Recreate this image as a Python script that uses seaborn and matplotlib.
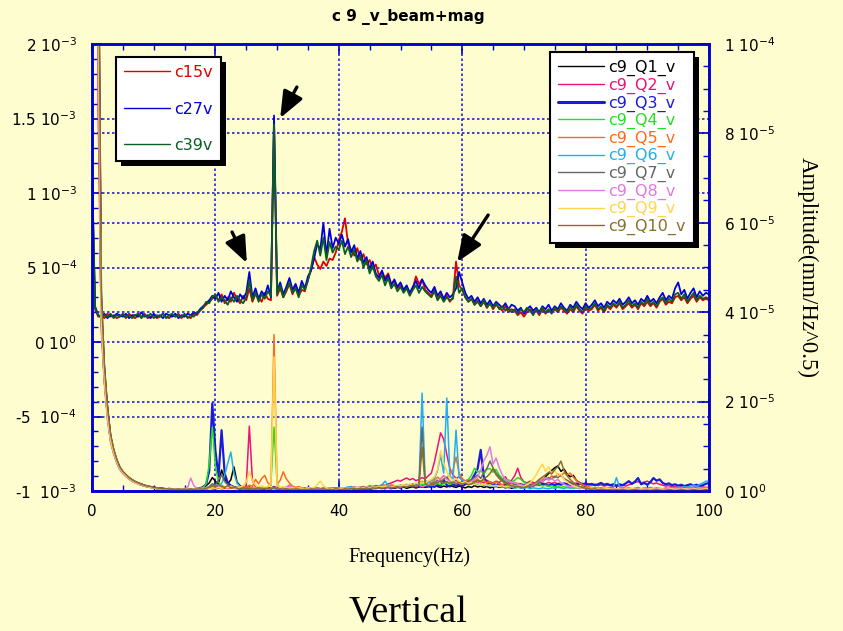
import numpy as np
import pandas as pd
import matplotlib
matplotlib.use("Agg")
import matplotlib.pyplot as plt
from matplotlib.ticker import MultipleLocator, FixedLocator, FixedFormatter
from matplotlib.patches import Rectangle
from matplotlib.lines import Line2D
import seaborn as sns

# ---------------------------------------------------------------- data
# common frequency grid (Hz)
freq = np.arange(0, 100.01, 0.5)

# beam + magnet spectra, left axis, units of 1e-5
c15v = [110, 22, 17, 18, 16, 19, 17, 18, 16, 17,
        18, 16, 19, 17, 16, 18, 17, 19, 16, 17,
        18, 16, 17, 19, 17, 16, 18, 17, 19, 16,
        18, 17, 16, 19, 18, 21, 23, 25, 27, 29,
        31, 28, 32, 26, 30, 27, 33, 29, 26, 31,
        28, 36, 27, 32, 30, 27, 33, 29, 28, 148,
        31, 36, 30, 34, 39, 32, 37, 31, 35, 34,
        42, 48, 57, 52, 49, 54, 51, 56, 55, 60,
        68, 74, 83, 66, 62, 58, 63, 55, 59, 52,
        55, 49, 52, 45, 47, 43, 46, 39, 41, 36,
        38, 34, 37, 32, 36, 44, 39, 42, 35, 33,
        31, 35, 29, 32, 28, 31, 27, 30, 54, 38,
        35, 30, 27, 29, 25, 28, 24, 27, 23, 26,
        22, 25, 23, 21, 24, 20, 22, 21, 18, 20,
        17, 20, 22, 19, 21, 18, 22, 19, 21, 20,
        22, 20, 23, 21, 19, 22, 20, 24, 21, 19,
        23, 21, 22, 25, 21, 23, 20, 24, 22, 25,
        23, 26, 22, 24, 26, 23, 25, 22, 26, 24,
        27, 24, 26, 23, 27, 29, 25, 27, 26, 30,
        31, 28, 30, 26, 29, 31, 27, 30, 28, 29,
        28]
c27v = [117, 24, 18, 17, 19, 16, 18, 17, 19, 18,
        17, 19, 16, 18, 18, 17, 20, 17, 18, 16,
        19, 17, 18, 16, 19, 18, 17, 19, 16, 18,
        17, 19, 18, 20, 19, 22, 24, 26, 28, 31,
        29, 33, 27, 31, 28, 34, 30, 27, 32, 29,
        33, 47, 30, 36, 29, 34, 31, 38, 30, 152,
        34, 40, 32, 37, 43, 35, 39, 33, 41, 36,
        44, 48, 56, 66, 62, 80, 58, 76, 63, 70,
        66, 72, 64, 69, 60, 65, 56, 61, 53, 57,
        49, 54, 46, 43, 48, 41, 45, 38, 42, 37,
        40, 35, 38, 33, 37, 41, 36, 42, 38, 35,
        33, 37, 31, 34, 29, 33, 30, 32, 36, 47,
        40, 33, 29, 31, 27, 30, 26, 29, 25, 28,
        24, 27, 25, 23, 26, 22, 25, 24, 21, 23,
        19, 22, 24, 21, 23, 20, 24, 22, 25, 21,
        24, 22, 26, 23, 21, 25, 23, 27, 24, 22,
        26, 23, 25, 28, 24, 26, 23, 27, 25, 28,
        26, 29, 25, 27, 30, 26, 28, 25, 29, 27,
        31, 27, 29, 26, 30, 33, 28, 31, 29, 36,
        40, 32, 35, 29, 33, 36, 30, 34, 31, 33,
        32]
c39v = [113, 23, 18, 16, 18, 17, 19, 16, 18, 17,
        19, 17, 18, 16, 18, 19, 16, 18, 17, 19,
        16, 18, 17, 19, 16, 18, 19, 17, 18, 17,
        19, 16, 18, 17, 20, 21, 23, 27, 26, 30,
        32, 27, 30, 28, 25, 30, 27, 31, 28, 26,
        30, 41, 28, 33, 27, 32, 29, 34, 31, 146,
        32, 38, 30, 35, 40, 33, 36, 30, 38, 35,
        41, 50, 61, 68, 58, 70, 55, 67, 60, 64,
        62, 68, 59, 64, 57, 62, 54, 58, 50, 55,
        46, 51, 44, 41, 45, 38, 43, 36, 39, 34,
        37, 33, 36, 31, 35, 38, 33, 37, 34, 32,
        30, 34, 28, 31, 27, 30, 28, 29, 44, 33,
        36, 30, 27, 29, 25, 27, 24, 28, 23, 26,
        23, 26, 22, 24, 21, 23, 20, 22, 19, 22,
        20, 23, 21, 18, 22, 19, 23, 20, 22, 19,
        23, 21, 24, 22, 20, 24, 21, 25, 22, 20,
        24, 22, 23, 26, 22, 24, 21, 25, 23, 26,
        24, 27, 23, 25, 28, 24, 26, 23, 27, 25,
        29, 25, 27, 24, 28, 30, 26, 29, 27, 32,
        33, 29, 32, 27, 30, 33, 28, 31, 29, 30,
        29]

# quadrupole spectra, right axis, units of 1e-6
c9_Q1_v = [950, 430, 130, 44, 28, 19, 12.5, 9.2, 7.0, 5.3,
           4.3, 3.6, 3.0, 2.5, 2.1, 1.8, 1.5, 1.3, 1.1, 0.9,
           0.8, 0.7, 0.6, 0.5, 0.5, 0.4, 0.4, 0.3, 0.4, 0.3,
           0.3, 0.4, 0.3, 0.5, 0.4, 0.6, 0.8, 1.2, 1.8, 3.0,
           2.2, 1.5, 4.7, 2.8, 1.6, 2.5, 5.4, 2.0, 1.2, 0.8,
           0.6, 0.9, 0.5, 0.7, 0.4, 0.6, 0.5, 0.8, 0.4, 1.0,
           0.5, 0.4, 0.6, 0.3, 0.5, 0.4, 0.3, 0.5, 0.4, 0.6,
           0.4, 0.5, 0.3, 0.6, 0.4, 0.5, 0.3, 0.4, 0.6, 0.4,
           0.5, 0.3, 0.4, 0.6, 0.5, 0.4, 0.7, 0.5, 0.6, 0.4,
           0.6, 0.5, 0.8, 0.6, 0.7, 0.5, 0.9, 0.7, 0.6, 0.8,
           0.7, 0.9, 0.6, 0.8, 1.0, 0.7, 0.9, 1.1, 0.8, 1.0,
           0.9, 1.2, 1.0, 0.8, 1.1, 0.9, 1.2, 1.0, 0.8, 1.1,
           0.9, 0.7, 1.0, 0.8, 1.2, 0.9, 1.1, 0.8, 1.0, 0.7,
           0.9, 1.1, 0.8, 1.0, 0.7, 0.9, 0.6, 0.8, 1.0, 0.7,
           0.8, 1.0, 0.9, 1.3, 1.8, 2.4, 2.1, 3.2, 3.9, 4.6,
           5.2, 5.6, 4.4, 4.9, 3.8, 3.2, 3.5, 2.4, 1.9, 1.3,
           1.0, 0.8, 0.6, 0.7, 0.5, 0.6, 0.4, 0.5, 0.3, 0.4,
           0.3, 0.4, 0.3, 0.2, 0.4, 0.3, 0.2, 0.3, 0.4, 0.3,
           0.2, 0.3, 0.4, 0.3, 0.2, 0.3, 0.2, 0.4, 0.3, 0.2,
           0.3, 0.2, 0.3, 0.4, 0.3, 0.2, 0.3, 0.2, 0.4, 0.3,
           0.3]
c9_Q2_v = [880, 400, 85, 38, 25, 17, 11.5, 8.6, 6.5, 5.0,
           4.0, 3.4, 2.8, 2.3, 1.9, 1.7, 1.4, 1.2, 1.0, 0.9,
           0.8, 0.7, 0.6, 0.6, 0.5, 0.5, 0.4, 0.5, 0.4, 0.3,
           0.4, 0.3, 0.5, 0.4, 0.3, 0.4, 0.5, 0.4, 0.6, 0.5,
           0.4, 0.7, 0.5, 0.6, 0.8, 0.6, 0.9, 0.7, 0.5, 0.8,
           1.2, 14.5, 2.4, 0.9, 0.6, 0.8, 0.5, 0.7, 0.6, 0.9,
           0.7, 0.5, 0.8, 0.6, 1.3, 0.7, 0.5, 0.6, 0.4, 0.7,
           0.5, 0.6, 0.4, 0.7, 0.5, 0.4, 0.6, 0.5, 0.7, 0.6,
           0.5, 0.7, 0.6, 0.8, 0.6, 0.9, 0.7, 0.8, 1.0, 0.9,
           1.1, 0.9, 1.2, 1.0, 1.4, 1.2, 1.6, 1.8, 2.1, 2.4,
           2.2, 2.6, 2.9, 2.5, 2.8, 2.3, 2.6, 3.0, 2.7, 3.4,
           4.0, 6.5, 9.8, 13.0, 11.6, 8.2, 5.0, 3.6, 2.8, 3.2,
           2.6, 2.2, 2.5, 2.0, 2.3, 1.9, 2.2, 1.8, 2.4, 2.0,
           1.8, 2.2, 1.9, 2.5, 3.2, 1.9, 2.4, 3.4, 5.1, 3.0,
           2.1, 1.8, 2.2, 1.9, 1.7, 2.0, 1.8, 1.6, 1.9, 1.7,
           1.9, 1.6, 1.8, 1.5, 1.7, 1.9, 1.6, 1.8, 1.5, 1.7,
           1.4, 1.6, 1.3, 1.5, 1.2, 1.4, 1.1, 1.3, 1.2, 1.0,
           1.2, 1.0, 1.3, 1.1, 1.4, 1.6, 1.9, 2.1, 1.8, 2.0,
           2.2, 1.9, 1.6, 1.8, 1.5, 1.3, 1.1, 1.2, 0.9, 1.0,
           0.8, 1.0, 0.7, 0.9, 0.8, 0.6, 0.8, 0.7, 0.9, 0.8,
           0.9]
c9_Q3_v = [920, 410, 120, 40, 26, 18, 12, 9, 6.8, 5.2,
           4.2, 3.5, 2.9, 2.4, 2.0, 1.7, 1.5, 1.2, 1.0, 0.9,
           0.8, 0.6, 0.6, 0.5, 0.4, 0.5, 0.4, 0.3, 0.4, 0.3,
           0.3, 0.4, 0.3, 0.4, 0.5, 0.6, 0.9, 1.5, 4.5, 19.6,
           9.0, 3.2, 13.6, 4.0, 1.8, 1.2, 0.9, 0.7, 0.5, 0.6,
           0.4, 0.6, 0.5, 0.4, 0.6, 0.3, 0.5, 0.4, 0.6, 0.8,
           0.5, 0.4, 0.6, 0.3, 0.5, 0.6, 0.4, 0.5, 0.3, 0.4,
           0.5, 0.3, 0.4, 0.5, 0.3, 0.6, 0.4, 0.3, 0.5, 0.4,
           0.6, 0.4, 0.5, 0.3, 0.6, 0.5, 0.4, 0.6, 0.5, 0.7,
           0.5, 0.7, 0.6, 0.8, 0.6, 0.9, 0.7, 0.6, 0.8, 1.0,
           0.8, 1.1, 0.9, 1.2, 1.0, 0.8, 1.1, 0.9, 1.3, 1.0,
           1.2, 0.9, 1.4, 1.1, 2.5, 1.3, 1.0, 1.5, 1.2, 1.4,
           1.1, 1.5, 1.8, 2.4, 3.6, 5.0, 9.2, 3.1, 1.9, 1.4,
           1.7, 1.3, 1.6, 1.2, 1.5, 1.4, 1.7, 1.3, 1.6, 1.5,
           1.3, 1.6, 1.4, 1.2, 1.5, 1.3, 1.6, 1.4, 1.2, 1.5,
           1.3, 1.6, 1.4, 1.7, 1.5, 1.3, 1.6, 1.4, 1.8, 1.5,
           1.7, 1.4, 1.6, 1.3, 1.5, 1.8, 1.4, 1.6, 1.3, 1.5,
           1.2, 1.5, 1.3, 1.7, 2.2, 1.6, 2.1, 2.9, 1.5, 1.8,
           1.4, 2.0, 2.9, 2.3, 2.6, 1.8, 1.5, 1.7, 1.3, 1.5,
           1.2, 1.4, 1.1, 1.3, 1.5, 1.2, 1.4, 1.1, 1.3, 1.6,
           1.8]
c9_Q4_v = [870, 390, 110, 39, 25, 17, 11.5, 8.7, 6.6, 5.0,
           4.1, 3.4, 2.8, 2.3, 1.9, 1.6, 1.4, 1.2, 1.0, 0.8,
           0.7, 0.6, 0.5, 0.5, 0.4, 0.4, 0.3, 0.4, 0.3, 0.4,
           0.3, 0.4, 0.3, 0.5, 0.4, 0.6, 0.8, 1.6, 6.0, 14.3,
           5.5, 2.0, 1.2, 0.9, 0.7, 0.8, 0.6, 0.5, 0.7, 0.4,
           0.6, 0.5, 0.4, 0.6, 0.5, 0.7, 0.6, 0.9, 1.8, 14.3,
           1.6, 0.6, 0.5, 0.4, 0.6, 0.3, 0.5, 0.4, 0.6, 0.5,
           0.3, 0.5, 0.4, 0.6, 0.4, 0.5, 0.3, 0.4, 0.5, 0.3,
           0.5, 0.4, 0.6, 0.5, 0.4, 0.6, 0.5, 0.7, 0.6, 0.8,
           0.6, 0.8, 0.7, 0.9, 0.8, 1.0, 0.9, 1.1, 0.9, 1.2,
           1.0, 1.3, 1.1, 1.4, 1.2, 1.5, 1.3, 1.6, 1.4, 1.2,
           1.5, 1.3, 1.7, 1.4, 1.6, 1.9, 1.5, 1.8, 1.6, 2.0,
           1.7, 2.2, 2.6, 3.5, 5.1, 4.2, 4.6, 3.8, 4.9, 5.0,
           4.2, 4.8, 3.6, 2.8, 2.2, 2.5, 2.0, 2.4, 3.0, 2.6,
           2.0, 1.6, 1.8, 1.4, 1.2, 1.5, 1.1, 1.3, 1.0, 1.2,
           0.9, 1.1, 0.8, 1.0, 0.7, 0.9, 0.6, 0.8, 0.5, 0.7,
           0.6, 0.5, 0.7, 0.4, 0.6, 0.5, 0.4, 0.6, 0.3, 0.5,
           0.4, 0.3, 0.5, 0.4, 0.3, 0.5, 0.4, 0.3, 0.4, 0.5,
           0.3, 0.4, 0.3, 0.5, 0.4, 0.3, 0.4, 0.3, 0.5, 0.4,
           0.3, 0.4, 0.5, 0.3, 0.4, 0.3, 0.5, 0.4, 0.3, 0.4,
           0.5]
c9_Q5_v = [900, 410, 115, 41, 26, 17.5, 12, 9, 6.7, 5.1,
           4.2, 3.5, 2.9, 2.4, 2.0, 1.7, 1.4, 1.2, 1.0, 0.9,
           0.7, 0.6, 0.5, 0.5, 0.4, 0.5, 0.4, 0.3, 0.4, 0.3,
           0.4, 0.3, 0.4, 0.5, 0.3, 0.4, 0.6, 0.5, 0.7, 1.2,
           0.9, 0.7, 0.6, 0.8, 0.5, 0.7, 0.6, 0.9, 0.7, 1.0,
           0.8, 1.3, 1.0, 2.6, 1.6, 2.8, 3.5, 1.8, 1.2, 35.0,
           1.5, 2.4, 4.3, 2.7, 1.8, 1.1, 0.8, 1.0, 0.7, 0.6,
           0.8, 0.5, 0.7, 0.6, 0.5, 0.7, 0.4, 0.6, 0.5, 0.4,
           0.6, 0.5, 0.7, 0.6, 0.8, 0.6, 0.7, 0.9, 0.7, 1.0,
           0.8, 1.1, 0.9, 1.2, 1.0, 1.3, 1.1, 1.4, 1.2, 1.0,
           1.3, 1.1, 1.5, 1.2, 1.6, 1.4, 1.8, 2.2, 1.7, 2.0,
           1.8, 2.4, 3.1, 2.6, 3.4, 2.8, 3.9, 4.6, 7.6, 4.0,
           2.8, 2.2, 2.5, 1.9, 2.3, 2.7, 2.0, 2.4, 1.8, 2.1,
           1.7, 2.0, 1.6, 1.4, 1.8, 1.5, 1.2, 1.4, 1.1, 1.3,
           1.0, 1.2, 1.0, 1.3, 1.6, 2.0, 2.6, 3.0, 2.5, 3.4,
           3.0, 3.8, 3.3, 4.1, 3.6, 4.0, 3.1, 2.4, 1.8, 1.4,
           1.1, 0.9, 0.8, 0.6, 0.7, 0.5, 0.6, 0.4, 0.5, 0.4,
           0.3, 0.5, 0.4, 0.3, 0.4, 0.3, 0.5, 0.4, 0.3, 0.4,
           0.3, 0.4, 0.3, 0.2, 0.4, 0.3, 0.2, 0.3, 0.4, 0.3,
           0.2, 0.3, 0.4, 0.3, 0.2, 0.3, 0.4, 0.3, 0.2, 0.3,
           0.3]
c9_Q6_v = [890, 400, 105, 40, 26, 17.5, 11.8, 8.8, 6.6, 5.1,
           4.1, 3.4, 2.8, 2.3, 1.9, 1.6, 1.4, 1.2, 1.0, 0.9,
           0.7, 0.6, 0.6, 0.5, 0.4, 0.4, 0.3, 0.4, 0.3, 0.4,
           0.3, 0.4, 0.3, 0.4, 0.5, 0.4, 0.6, 0.5, 0.8, 1.4,
           1.1, 0.9, 1.6, 3.5, 6.2, 8.7, 4.0, 1.8, 1.0, 0.7,
           0.5, 0.7, 0.6, 0.4, 0.6, 0.5, 0.7, 0.4, 0.6, 0.5,
           0.4, 0.6, 0.5, 0.3, 0.5, 0.4, 0.6, 0.5, 0.4, 0.6,
           0.5, 0.4, 0.6, 0.7, 0.5, 0.6, 0.4, 0.7, 0.5, 0.6,
           0.8, 0.6, 0.7, 0.9, 1.0, 0.7, 0.8, 0.6, 0.9, 0.7,
           0.8, 1.0, 0.9, 1.1, 1.4, 2.2, 1.3, 1.0, 1.2, 1.1,
           1.3, 1.1, 1.4, 1.2, 1.6, 1.4, 1.8, 21.9, 2.4, 1.9,
           2.3, 2.8, 4.5, 8.0, 4.0, 20.8, 3.4, 2.6, 13.6, 3.0,
           2.4, 2.0, 1.8, 1.6, 1.8, 1.4, 1.6, 1.2, 1.4, 1.1,
           1.2, 0.9, 1.1, 0.8, 1.0, 0.7, 0.9, 0.6, 0.8, 0.7,
           0.6, 0.8, 0.5, 0.7, 0.6, 0.5, 0.7, 0.6, 0.5, 0.7,
           0.6, 0.8, 0.7, 0.5, 0.9, 0.6, 0.8, 0.7, 0.6, 0.8,
           0.7, 0.5, 0.6, 0.8, 0.6, 0.7, 0.5, 0.6, 0.8, 0.7,
           3.0, 0.9, 0.8, 0.6, 0.7, 0.5, 0.6, 0.8, 0.5, 0.7,
           0.6, 0.8, 0.5, 0.7, 0.6, 0.5, 0.7, 0.6, 0.8, 0.7,
           0.9, 0.7, 1.0, 0.8, 1.1, 1.3, 1.0, 1.5, 1.8, 2.2,
           2.2]
c9_Q7_v = [860, 380, 100, 37, 24.5, 16.5, 11.2, 8.5, 6.4, 4.9,
           4.0, 3.3, 2.7, 2.2, 1.9, 1.6, 1.3, 1.1, 1.0, 0.8,
           0.7, 0.6, 0.5, 0.4, 0.5, 0.4, 0.3, 0.4, 0.3, 0.3,
           0.4, 0.3, 0.4, 0.3, 0.5, 0.4, 0.5, 0.7, 1.0, 1.6,
           1.3, 2.4, 3.6, 2.1, 1.4, 1.0, 0.8, 0.6, 0.7, 0.5,
           0.6, 0.4, 0.5, 0.7, 0.4, 0.6, 0.5, 0.4, 0.6, 0.7,
           0.5, 0.4, 0.6, 0.5, 0.3, 0.5, 0.4, 0.6, 0.5, 0.4,
           0.6, 0.4, 0.5, 0.3, 0.5, 0.4, 0.6, 0.5, 0.4, 0.6,
           0.5, 0.7, 0.6, 0.5, 0.8, 0.6, 0.7, 0.5, 0.8, 0.6,
           0.7, 0.9, 0.8, 0.6, 0.9, 0.7, 1.0, 0.8, 0.9, 1.1,
           0.9, 1.2, 1.0, 1.3, 1.1, 1.4, 1.6, 14.3, 2.0, 1.4,
           1.6, 1.9, 2.4, 2.0, 2.6, 3.1, 2.2, 1.8, 2.4, 1.9,
           1.6, 1.9, 2.2, 2.6, 3.0, 3.6, 2.8, 4.2, 5.0, 6.7,
           5.2, 4.0, 3.2, 2.4, 2.0, 1.6, 1.8, 1.4, 1.6, 1.2,
           1.0, 1.2, 0.9, 1.1, 1.4, 1.8, 2.2, 2.6, 3.0, 2.7,
           3.3, 3.0, 3.6, 2.8, 2.4, 2.0, 1.6, 1.3, 1.0, 0.8,
           0.7, 0.5, 0.6, 0.4, 0.5, 0.3, 0.4, 0.5, 0.3, 0.4,
           0.3, 0.4, 0.2, 0.3, 0.4, 0.3, 0.2, 0.4, 0.3, 0.2,
           0.3, 0.2, 0.4, 0.3, 0.2, 0.3, 0.4, 0.2, 0.3, 0.2,
           0.3, 0.4, 0.2, 0.3, 0.2, 0.4, 0.3, 0.2, 0.3, 0.4,
           0.3]
c9_Q8_v = [850, 370, 95, 36, 24, 16, 11, 8.3, 6.3, 4.8,
           3.9, 3.2, 2.7, 2.2, 1.8, 1.5, 1.3, 1.1, 0.9, 0.8,
           0.7, 0.6, 0.5, 0.4, 0.4, 0.3, 0.4, 0.3, 0.4, 0.3,
           0.5, 0.8, 2.9, 1.2, 0.6, 0.5, 0.7, 0.6, 0.9, 0.7,
           1.0, 0.8, 1.2, 0.9, 0.7, 1.1, 0.8, 0.6, 0.9, 0.7,
           0.5, 0.7, 0.6, 0.8, 0.5, 0.7, 0.6, 0.4, 0.6, 0.8,
           0.6, 0.5, 0.7, 0.9, 1.3, 0.8, 0.5, 0.6, 0.4, 0.5,
           0.4, 0.6, 0.5, 0.3, 0.5, 0.4, 0.6, 0.4, 0.3, 0.5,
           0.4, 0.6, 0.5, 0.7, 0.5, 0.6, 0.8, 0.6, 0.7, 0.5,
           0.7, 0.6, 0.8, 0.7, 0.9, 0.8, 0.6, 0.9, 0.8, 1.0,
           0.9, 1.1, 1.0, 1.2, 1.4, 1.1, 1.3, 1.0, 1.2, 1.5,
           1.3, 1.6, 2.0, 2.8, 3.5, 2.6, 2.2, 1.8, 2.1, 1.7,
           1.5, 1.9, 1.7, 2.2, 2.6, 3.2, 4.6, 6.8, 8.0, 9.9,
           6.0, 7.4, 5.2, 3.6, 2.6, 2.2, 1.8, 2.0, 1.6, 1.4,
           1.2, 1.5, 1.1, 1.4, 1.8, 2.6, 2.0, 3.0, 2.4, 2.8,
           2.2, 2.6, 1.8, 1.5, 1.2, 1.0, 0.9, 0.7, 0.8, 0.6,
           0.5, 0.7, 0.4, 0.6, 0.5, 0.4, 0.6, 0.5, 0.3, 0.5,
           0.4, 0.6, 0.5, 0.3, 0.5, 0.4, 0.6, 0.5, 0.4, 0.6,
           0.5, 0.4, 0.6, 0.5, 0.3, 0.5, 0.4, 0.6, 0.5, 0.4,
           0.5, 0.6, 0.4, 0.5, 0.7, 0.5, 0.6, 0.8, 0.6, 0.7,
           0.6]
c9_Q9_v = [880, 395, 112, 39, 25.5, 17, 11.6, 8.8, 6.6, 5.1,
           4.1, 3.4, 2.8, 2.3, 1.9, 1.6, 1.4, 1.2, 1.0, 0.8,
           0.7, 0.6, 0.5, 0.5, 0.4, 0.4, 0.3, 0.4, 0.3, 0.4,
           0.3, 0.4, 0.3, 0.4, 0.3, 0.5, 0.4, 0.6, 0.5, 0.7,
           0.6, 0.8, 0.6, 0.9, 0.7, 1.0, 0.8, 0.6, 0.9, 1.2,
           2.0, 4.3, 2.4, 1.3, 0.9, 1.2, 0.8, 1.0, 1.6, 30.0,
           1.2, 0.8, 1.0, 0.7, 0.6, 0.8, 0.5, 0.7, 0.6, 0.5,
           0.7, 0.6, 0.8, 1.4, 2.2, 1.2, 0.7, 0.5, 0.6, 0.4,
           0.5, 0.7, 0.6, 0.5, 0.7, 0.6, 0.8, 0.6, 0.7, 0.9,
           0.7, 0.9, 0.8, 1.0, 0.9, 1.1, 1.0, 0.8, 1.1, 1.3,
           1.1, 1.4, 1.2, 1.6, 1.3, 1.8, 1.5, 2.0, 1.7, 2.3,
           2.6, 3.2, 4.8, 9.0, 6.2, 4.4, 3.0, 2.4, 2.8, 2.2,
           1.8, 2.1, 1.6, 1.9, 1.4, 1.7, 1.3, 1.5, 1.2, 1.4,
           1.1, 1.3, 1.0, 1.2, 0.9, 1.1, 1.4, 1.0, 1.3, 1.1,
           1.0, 1.4, 1.8, 2.6, 3.6, 5.0, 6.0, 4.4, 5.4, 4.0,
           4.6, 3.4, 3.8, 2.6, 2.0, 1.5, 1.2, 0.9, 0.7, 0.8,
           0.6, 0.5, 0.7, 0.4, 0.6, 0.5, 0.4, 0.6, 0.5, 0.3,
           0.5, 0.4, 0.3, 0.5, 0.4, 0.6, 0.4, 0.3, 0.5, 0.4,
           0.3, 0.5, 0.4, 0.3, 0.5, 0.4, 0.3, 0.4, 0.5, 0.3,
           0.4, 0.3, 0.5, 0.4, 0.3, 0.5, 0.4, 0.3, 0.4, 0.5,
           0.4]
c9_Q10_v = [1000, 450, 140, 45, 28.5, 19, 12.8, 9.5, 7.1, 5.4,
            4.4, 3.7, 3.0, 2.5, 2.1, 1.8, 1.5, 1.3, 1.1, 1.0,
            0.8, 0.7, 0.6, 0.5, 0.5, 0.4, 0.4, 0.3, 0.4, 0.3,
            0.4, 0.3, 0.4, 0.3, 0.4, 0.5, 0.4, 0.6, 0.8, 1.1,
            0.9, 1.4, 1.0, 0.8, 1.2, 0.7, 0.9, 0.6, 0.5, 0.7,
            0.5, 0.6, 0.4, 0.5, 0.7, 0.4, 0.6, 0.5, 0.4, 0.8,
            0.4, 0.5, 0.3, 0.5, 0.4, 0.3, 0.5, 0.4, 0.3, 0.4,
            0.3, 0.5, 0.4, 0.3, 0.4, 0.5, 0.3, 0.4, 0.3, 0.5,
            0.4, 0.3, 0.5, 0.4, 0.6, 0.5, 0.4, 0.6, 0.5, 0.7,
            0.5, 0.7, 0.6, 0.8, 0.6, 0.7, 0.9, 0.7, 0.8, 1.0,
            0.8, 1.0, 0.9, 1.1, 1.3, 1.0, 1.4, 9.8, 1.6, 1.2,
            1.4, 1.6, 1.9, 2.3, 1.8, 2.1, 1.7, 2.0, 1.6, 1.9,
            1.5, 1.8, 1.4, 1.6, 2.0, 2.4, 2.1, 2.8, 3.2, 3.9,
            5.0, 3.6, 2.8, 2.2, 1.7, 1.4, 1.2, 1.0, 1.1, 0.9,
            0.8, 1.0, 1.2, 1.6, 2.0, 2.6, 3.1, 3.6, 4.2, 3.8,
            4.8, 5.4, 6.7, 4.6, 3.4, 2.6, 1.9, 1.4, 1.0, 0.8,
            0.6, 0.5, 0.4, 0.5, 0.3, 0.4, 0.3, 0.2, 0.3, 0.2,
            0.3, 0.2, 0.3, 0.2, 0.1, 0.2, 0.3, 0.2, 0.1, 0.2,
            0.2, 0.1, 0.2, 0.3, 0.2, 0.1, 0.2, 0.3, 0.2, 0.1,
            0.2, 0.3, 0.2, 0.1, 0.2, 0.3, 0.2, 0.1, 0.2, 0.3,
            0.2]

upper_names = ["c15v", "c27v", "c39v"]
upper_colors = ["#E00000", "#0000DD", "#0B5E22"]
upper_values = [c15v, c27v, c39v]

q_names = ["c9_Q1_v", "c9_Q2_v", "c9_Q3_v", "c9_Q4_v", "c9_Q5_v",
           "c9_Q6_v", "c9_Q7_v", "c9_Q8_v", "c9_Q9_v", "c9_Q10_v"]
q_colors = ["#000000", "#F0107A", "#1A1ADB", "#22E022", "#FF6A1A",
            "#22AEEE", "#666666", "#E27ADF", "#FFD54A", "#8A6E2A"]
q_widths = [1.1, 1.1, 1.6, 1.1, 1.1, 1.1, 1.1, 1.1, 1.1, 1.1]
q_values = [c9_Q1_v, c9_Q2_v, c9_Q3_v, c9_Q4_v, c9_Q5_v,
            c9_Q6_v, c9_Q7_v, c9_Q8_v, c9_Q9_v, c9_Q10_v]

# axis ticks and their labels
x_ticks = [0, 20, 40, 60, 80, 100]
left_ticks = [-1e-3, -5e-4, 0, 5e-4, 1e-3, 1.5e-3, 2e-3]
left_labels = ["-1  10$^{-3}$", "-5  10$^{-4}$", "0 10$^{0}$", "5 10$^{-4}$",
               "1 10$^{-3}$", "1.5 10$^{-3}$", "2 10$^{-3}$"]
right_ticks = [0, 2e-5, 4e-5, 6e-5, 8e-5, 1e-4]
right_labels = ["0 10$^{0}$", "2 10$^{-5}$", "4 10$^{-5}$", "6 10$^{-5}$",
                "8 10$^{-5}$", "1 10$^{-4}$"]

# annotation arrows (tail, head) in left-axis units
arrows = [((33.2, 1.711e-3), (30.5, 1.503e-3)),
          ((22.7, 7.38e-4), (25.1, 5.30e-4)),
          ((64.2, 8.52e-4), (59.2, 5.37e-4))]

# ---------------------------------------------------------------- style
BG = "#FEFDD0"
AXBLUE = "#0000CC"
SANS = ["DejaVu Sans"]
SERIF = ["Liberation Serif", "DejaVu Serif"]
sns.set_style("white")
plt.rcParams.update({
    "font.family": SANS,
    "mathtext.fontset": "custom",
    "mathtext.rm": "DejaVu Sans",
    "mathtext.default": "regular",
    "figure.facecolor": BG,
    "axes.facecolor": BG,
    "text.color": "black",
    "axes.labelcolor": "black",
    "xtick.labelcolor": "black",
    "ytick.labelcolor": "black",
})

upper_df = pd.DataFrame({
    "freq": np.tile(freq, len(upper_names)),
    "amp": np.concatenate([np.asarray(v, float) * 1e-5 for v in upper_values]),
    "series": np.repeat(upper_names, len(freq)),
})
q_df = pd.DataFrame({
    "freq": np.tile(freq, len(q_names)),
    "amp": np.concatenate([np.asarray(v, float) * 1e-6 for v in q_values]),
    "series": np.repeat(q_names, len(freq)),
})

fig = plt.figure(figsize=(8.43, 6.31), dpi=100)
ax = fig.add_axes([92 / 843, 1 - 491 / 631, 617 / 843, 447 / 631])
ax.set_facecolor(BG)

sns.lineplot(data=upper_df, x="freq", y="amp", hue="series",
             hue_order=upper_names, palette=dict(zip(upper_names, upper_colors)),
             estimator=None, sort=False, legend=False, linewidth=1.3, ax=ax)

ax2 = ax.twinx()
sns.lineplot(data=q_df, x="freq", y="amp", hue="series", size="series",
             hue_order=q_names, size_order=q_names,
             palette=dict(zip(q_names, q_colors)),
             sizes=dict(zip(q_names, q_widths)),
             estimator=None, sort=False, legend=False, ax=ax2)

ax.set_xlim(0, 100)
ax.set_ylim(-1e-3, 2e-3)
ax2.set_ylim(0, 1e-4)

# ticks
ax.xaxis.set_major_locator(FixedLocator(x_ticks))
ax.xaxis.set_minor_locator(MultipleLocator(5))
ax.yaxis.set_major_locator(FixedLocator(left_ticks))
ax.yaxis.set_major_formatter(FixedFormatter(left_labels))
ax.yaxis.set_minor_locator(MultipleLocator(1e-4))
ax2.yaxis.set_major_locator(FixedLocator(right_ticks))
ax2.yaxis.set_major_formatter(FixedFormatter(right_labels))
ax2.yaxis.set_minor_locator(MultipleLocator(5e-6))

ax.tick_params(axis="x", which="both", direction="in", top=True, bottom=True,
               color=AXBLUE, labelsize=11, pad=9, labelcolor="black")
ax.tick_params(axis="x", which="major", length=7, width=1.2)
ax.tick_params(axis="x", which="minor", length=4, width=1.0)
ax.tick_params(axis="y", which="both", direction="in", color=AXBLUE,
               labelsize=11, pad=11, labelcolor="black")
ax.tick_params(axis="y", which="major", length=7, width=1.2)
ax.tick_params(axis="y", which="minor", length=4, width=1.0)
ax2.tick_params(axis="y", which="both", direction="in", color=AXBLUE,
                labelsize=11, pad=11, labelcolor="black")
ax2.tick_params(axis="y", which="major", length=7, width=1.2)
ax2.tick_params(axis="y", which="minor", length=4, width=1.0)

# dotted grid
grid_kw = dict(color="#2222DD", linestyle=(0, (1.5, 1.5)), linewidth=1.2)
ax.grid(True, axis="both", which="major", **grid_kw)
ax2.grid(True, axis="y", which="major", **grid_kw)
ax.set_axisbelow(True)

for a in (ax, ax2):
    for s in a.spines.values():
        s.set_color(AXBLUE)
        s.set_linewidth(1.8)

# labels
ax.set_xlabel("Frequency(Hz)", family=SERIF, fontsize=14.5, color="black")
ax.xaxis.set_label_coords(0.515, -0.148)
ax.xaxis.label.set_va("center")
ax.set_ylabel("")
ax2.set_ylabel("Amplitude(mm/Hz^0.5)", family=SERIF, fontsize=16.5,
               rotation=270, va="center", color="black")
ax2.yaxis.set_label_coords(1.160, 0.5)

fig.text(408 / 843, 1 - 17 / 631, "c 9 _v_beam+mag", ha="center", va="center",
         fontsize=11, fontweight="bold", color="black")
fig.text(408 / 843, 1 - 613 / 631, "Vertical", ha="center", va="center",
         fontsize=27.5, family=SERIF, color="black")

# arrows
for tail, head in arrows:
    ax2.annotate("", xy=head, xycoords=ax.transData,
                 xytext=tail, textcoords=ax.transData,
                 arrowprops=dict(arrowstyle="-|>,head_length=1.6,head_width=0.65",
                                 color="black", lw=2.4, shrinkA=0, shrinkB=0,
                                 mutation_scale=10))

# legends
def make_legend(names, colors, widths, anchor, spacing):
    handles = [Line2D([], [], color=c, lw=w) for c, w in zip(colors, widths)]
    leg = ax2.legend(handles, names, loc="upper left", bbox_to_anchor=anchor,
                     frameon=True, fancybox=False, edgecolor="black",
                     facecolor="white", framealpha=1, labelcolor=colors,
                     fontsize=11.5, handlelength=2.9, handletextpad=0.25,
                     labelspacing=spacing, borderpad=0.5, borderaxespad=0)
    leg.get_frame().set_linewidth(1.5)
    return leg

leg1 = make_legend(upper_names, upper_colors, [1.0] * 3, (0.0389, 0.971), 1.35)
ax2.add_artist(leg1)
leg2 = make_legend(q_names, q_colors, [1.0, 1.0, 2.2] + [1.0] * 7,
                   (0.742, 0.982), 0.09)

# drop shadows behind the legend boxes
fig.canvas.draw()
for leg in (leg1, leg2):
    bb = leg.get_window_extent()
    shadow = Rectangle((bb.x0 + 5, bb.y0 - 5), bb.width, bb.height,
                       transform=None, facecolor="black", edgecolor="none",
                       zorder=leg.get_zorder() - 0.1)
    ax2.add_artist(shadow)
    shadow.set_clip_on(False)

fig.savefig("out.png", dpi=100, facecolor=BG)
